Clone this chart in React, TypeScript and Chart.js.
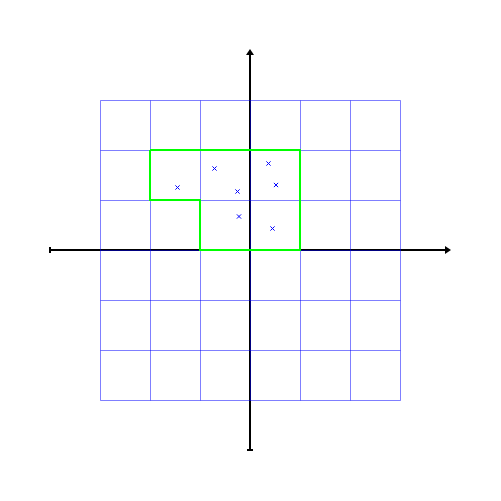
import React, { useEffect, useRef } from "react";
import { Chart, registerables } from "chart.js";

Chart.register(...registerables);

const gridTicks = [-3, -2, -1, 0, 1, 2, 3];
const axisRange = [-4, 4];
const polygonX = [-2, 1, 1, -1, -1, -2, -2];
const polygonY = [2, 2, 0, 0, 1, 1, 2];
const pointsX = [-0.71, -1.45, -0.25, 0.37, 0.52, -0.22, 0.45];
const pointsY = [1.63, 1.25, 1.17, 1.73, 1.3, 0.67, 0.43];

const overlayPlugin = {
  id: "overlay",
  beforeDatasetsDraw(chart: any) {
    const ctx = chart.ctx;
    const xs = chart.scales.x;
    const ys = chart.scales.y;
    const px = (v: number) => Math.round(xs.getPixelForValue(v));
    const py = (v: number) => Math.round(ys.getPixelForValue(v));
    ctx.save();
    // axes
    ctx.strokeStyle = "#000000";
    ctx.fillStyle = "#000000";
    ctx.lineWidth = 2;
    const x0 = px(0), y0 = py(0);
    const xl = px(axisRange[0]), xr = px(axisRange[1]);
    const yb = py(axisRange[0]), yt = py(axisRange[1]);
    // horizontal
    ctx.beginPath();
    ctx.moveTo(xl, y0);
    ctx.lineTo(xr - 4, y0);
    ctx.stroke();
    ctx.beginPath();
    ctx.moveTo(xl, y0 - 3);
    ctx.lineTo(xl, y0 + 3);
    ctx.stroke();
    ctx.beginPath();
    ctx.moveTo(xr + 1, y0);
    ctx.lineTo(xr - 5, y0 - 4);
    ctx.lineTo(xr - 5, y0 + 4);
    ctx.closePath();
    ctx.fill();
    // vertical
    ctx.beginPath();
    ctx.moveTo(x0, yb);
    ctx.lineTo(x0, yt + 4);
    ctx.stroke();
    ctx.beginPath();
    ctx.moveTo(x0 - 3, yb);
    ctx.lineTo(x0 + 3, yb);
    ctx.stroke();
    ctx.beginPath();
    ctx.moveTo(x0, yt - 1);
    ctx.lineTo(x0 - 4, yt + 5);
    ctx.lineTo(x0 + 4, yt + 5);
    ctx.closePath();
    ctx.fill();
    // grid
    ctx.strokeStyle = "rgba(0,0,255,0.5)";
    ctx.lineWidth = 1;
    const gMin = gridTicks[0], gMax = gridTicks[gridTicks.length - 1];
    for (const t of gridTicks) {
      ctx.beginPath();
      ctx.moveTo(px(t) + 0.5, py(gMin) + 0.5);
      ctx.lineTo(px(t) + 0.5, py(gMax) + 0.5);
      ctx.stroke();
      ctx.beginPath();
      ctx.moveTo(px(gMin) + 0.5, py(t) + 0.5);
      ctx.lineTo(px(gMax) + 0.5, py(t) + 0.5);
      ctx.stroke();
    }
    ctx.restore();
  },
};

export default function App() {
  const ref = useRef<HTMLCanvasElement>(null);
  useEffect(() => {
    if (!ref.current) return;
    const chart = new Chart(ref.current, {
      type: "scatter",
      data: {
        datasets: [
          {
            type: "line",
            data: polygonX.map((x, i) => ({ x, y: polygonY[i] })),
            borderColor: "#00ff00",
            borderWidth: 2,
            pointRadius: 0,
            fill: false,
            tension: 0,
            clip: false,
          } as any,
          {
            data: pointsX.map((x, i) => ({ x, y: pointsY[i] })),
            pointStyle: "crossRot",
            pointRadius: 3,
            borderColor: "#0000ff",
            backgroundColor: "#0000ff",
            borderWidth: 1,
            clip: false,
          } as any,
        ],
      },
      options: {
        animation: false,
        responsive: false,
        devicePixelRatio: 1,
        layout: { padding: { left: 50, right: 51, top: 50, bottom: 51 } },
        scales: {
          x: { type: "linear", min: axisRange[0], max: axisRange[1], display: false },
          y: { type: "linear", min: axisRange[0], max: axisRange[1], display: false },
        },
        plugins: { legend: { display: false }, tooltip: { enabled: false } },
      },
      plugins: [overlayPlugin],
    });
    return () => chart.destroy();
  }, []);
  return (
    <div style={{ position: "fixed", top: 0, left: 0, width: 501, height: 501, background: "#fff" }}>
      <canvas ref={ref} width={501} height={501} />
    </div>
  );
}
